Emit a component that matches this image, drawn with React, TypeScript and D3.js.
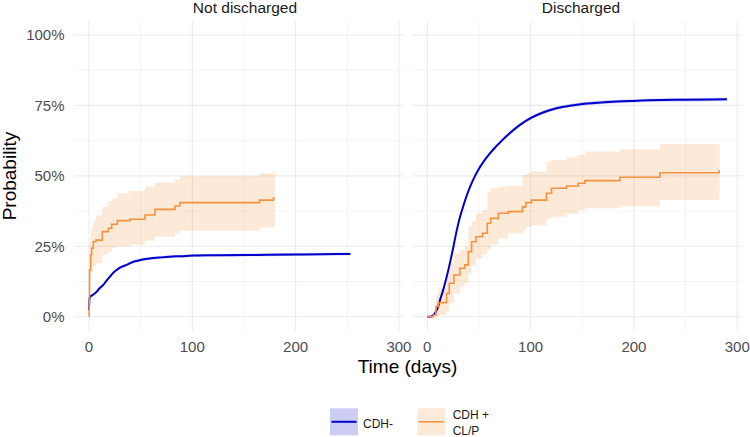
import React from "react";
import * as d3 from "d3";

// ---------- data ----------
const panels = ["Not discharged", "Discharged"];
const xTicks = [0, 100, 200, 300];
const xMinor = [50, 150, 250];
const yTicks = [0, 25, 50, 75, 100];
const yMinor = [12.5, 37.5, 62.5, 87.5];
const yTickLabels = ["0%", "25%", "50%", "75%", "100%"];
const legendLabels = [["CDH-"], ["CDH +", "CL/P"]];

// Not discharged — CDH- (smooth estimate, %)
const ndBlueDays = [0, 0.5, 1.5, 4, 7.5, 10, 13.8, 17, 20.3, 23, 26.8, 31, 36.5, 41, 46.2, 52, 59, 68, 78, 90, 101, 125, 150, 175, 200, 225, 253];
const ndBlueEst = [2.4, 6.5, 7.2, 7.8, 8.9, 10.0, 11.3, 12.8, 14.2, 15.4, 16.6, 17.6, 18.4, 19.2, 19.8, 20.3, 20.7, 21.0, 21.3, 21.5, 21.7, 21.8, 21.9, 22.0, 22.1, 22.2, 22.3];
const ndBlueLo = [2.0, 6.0, 6.7, 7.3, 8.4, 9.5, 10.8, 12.3, 13.7, 14.9, 16.1, 17.1, 17.9, 18.7, 19.3, 19.8, 20.2, 20.5, 20.8, 21.0, 21.2, 21.3, 21.4, 21.5, 21.6, 21.7, 21.8];
const ndBlueHi = [2.8, 7.0, 7.7, 8.3, 9.4, 10.5, 11.8, 13.3, 14.7, 15.9, 17.1, 18.1, 18.9, 19.7, 20.3, 20.8, 21.2, 21.5, 21.8, 22.0, 22.2, 22.3, 22.4, 22.5, 22.6, 22.7, 22.8];

// Not discharged — CDH + CL/P (step estimate, %)
const ndOrDays = [0, 0.2, 0.5, 1.6, 2.6, 4.2, 6.8, 12.9, 18.7, 22, 27.4, 39.7, 54.2, 63.9, 83.3, 88, 165, 178.4, 180];
const ndOrEst = [0, 6.6, 16.6, 21.9, 24.3, 26.6, 27.2, 30.2, 31.4, 32.8, 34.1, 34.6, 36.1, 38.1, 39.3, 40.5, 41.4, 42.0, 42.0];
const ndOrLo = [0, 1.0, 9.0, 14.0, 16.0, 18.0, 19.0, 22.0, 23.0, 24.5, 25.0, 25.5, 27.0, 28.4, 29.6, 30.5, 31.7, 32.0, 32.0];
const ndOrHi = [0, 14.0, 26.0, 30.0, 32.0, 34.0, 36.0, 39.0, 41.0, 42.0, 43.8, 44.7, 46.1, 47.7, 48.8, 49.9, 50.9, 51.5, 51.5];

// Discharged — CDH- (smooth estimate, %)
const dBlueDays = [0, 3, 5, 7.4, 10, 12.3, 15, 17.1, 20, 22, 25, 27, 30, 32, 35, 38, 42, 46, 50, 55, 60, 65, 70, 80, 90, 100, 112, 125, 140, 150, 175, 200, 225, 250, 275, 290];
const dBlueEst = [0, 0, 0.3, 1.2, 3.0, 5.9, 9.0, 11.8, 16.0, 19.2, 24.3, 28.0, 33.0, 35.8, 39.5, 42.8, 46.6, 49.8, 52.5, 55.3, 57.7, 59.8, 61.7, 65.2, 68.2, 70.5, 72.5, 74.0, 75.0, 75.5, 76.2, 76.6, 76.9, 77.0, 77.1, 77.2];
const dBlueLo = [0, 0, 0.1, 0.8, 2.5, 5.3, 8.4, 11.2, 15.4, 18.6, 23.7, 27.4, 32.4, 35.2, 38.9, 42.2, 46.0, 49.2, 51.9, 54.7, 57.1, 59.2, 61.1, 64.6, 67.6, 69.9, 71.9, 73.4, 74.4, 74.9, 75.6, 76.0, 76.3, 76.4, 76.5, 76.6];
const dBlueHi = [0, 0.1, 0.5, 1.6, 3.5, 6.5, 9.6, 12.4, 16.6, 19.8, 24.9, 28.6, 33.6, 36.4, 40.1, 43.4, 47.2, 50.4, 53.1, 55.9, 58.3, 60.4, 62.3, 65.8, 68.8, 71.1, 73.1, 74.6, 75.6, 76.1, 76.8, 77.2, 77.5, 77.6, 77.7, 77.8];

// Discharged — CDH + CL/P (step estimate, %)
const dOrDays = [0, 5.8, 8.4, 10.7, 18.7, 21.3, 25.8, 31.6, 36.4, 39.7, 42.9, 47.1, 53.5, 58.1, 61.3, 68.7, 78.4, 92.2, 95.4, 100.9, 115.4, 120.3, 134.8, 146, 152.5, 186.4, 225.1, 282.5, 283];
const dOrEst = [0, 0.6, 3.6, 5.0, 8.3, 11.9, 14.8, 17.2, 18.4, 23.1, 26.6, 28.4, 29.6, 33.2, 34.9, 36.7, 37.3, 39.0, 40.5, 41.4, 43.8, 45.6, 46.4, 47.4, 48.3, 49.5, 51.1, 51.8, 51.8];
const dOrLo = [0, 0, 0.2, 0.5, 2.0, 5.0, 8.3, 10.7, 12.0, 15.4, 18.0, 20.7, 22.0, 23.7, 25.5, 27.8, 29.6, 30.5, 31.9, 32.5, 34.9, 35.5, 36.5, 37.9, 38.5, 39.3, 41.4, 41.8, 41.8];
const dOrHi = [0, 2.4, 8.0, 10.0, 15.0, 19.0, 22.5, 23.7, 25.0, 31.9, 34.0, 36.7, 38.0, 44.4, 45.6, 46.1, 46.5, 50.3, 50.9, 51.5, 55.0, 55.6, 56.5, 57.4, 58.6, 59.4, 61.3, 61.5, 61.5];

// ---------- styles ----------
const BLUE = "#0000CD";
const ORANGE = "#F5923E";
const GRID = "#EBEBEB";
const FONT = "'Liberation Sans', Arial, Helvetica, sans-serif";

type Pt = { x: number; y: number; lo: number; hi: number };
const zip = (d: number[], e: number[], lo: number[], hi: number[]): Pt[] =>
  d.map((x, i) => ({ x, y: e[i], lo: lo[i], hi: hi[i] }));

const panelData = [
  {
    blue: zip(ndBlueDays, ndBlueEst, ndBlueLo, ndBlueHi),
    orange: zip(ndOrDays, ndOrEst, ndOrLo, ndOrHi),
  },
  {
    blue: zip(dBlueDays, dBlueEst, dBlueLo, dBlueHi),
    orange: zip(dOrDays, dOrEst, dOrLo, dOrHi),
  },
];

const W = 750;
const H = 437;
const panelLeft = [74, 412.3];
const panelWidth = 329.6;
const panelTop = 20.9;
const panelBottom = 330.8;
const stripX = [245, 581];

export default function App() {
  const y = d3.scaleLinear().domain([-5, 105]).range([panelBottom, panelTop]);

  return (
    <svg
      width={W}
      height={H}
      style={{ position: "absolute", left: 0, top: 0, display: "block", background: "#fff" }}
      fontFamily={FONT}
    >
      <rect width={W} height={H} fill="#fff" />
      {panels.map((name, pi) => {
        const x = d3
          .scaleLinear()
          .domain([-14.5, 304.5])
          .range([panelLeft[pi], panelLeft[pi] + panelWidth]);
        const [x0, x1] = x.range();
        const stepLine = d3
          .line<Pt>()
          .x((d) => x(d.x))
          .y((d) => y(d.y))
          .curve(d3.curveStepAfter);
        const stepArea = d3
          .area<Pt>()
          .x((d) => x(d.x))
          .y0((d) => y(d.lo))
          .y1((d) => y(d.hi))
          .curve(d3.curveStepAfter);
        const smoothLine = d3
          .line<Pt>()
          .x((d) => x(d.x))
          .y((d) => y(d.y))
          .curve(d3.curveMonotoneX);
        const smoothArea = d3
          .area<Pt>()
          .x((d) => x(d.x))
          .y0((d) => y(d.lo))
          .y1((d) => y(d.hi))
          .curve(d3.curveMonotoneX);
        const pd = panelData[pi];
        return (
          <g key={name}>
            {/* grid */}
            {yMinor.map((t) => (
              <line key={"ym" + t} x1={x0} x2={x1} y1={y(t)} y2={y(t)} stroke={GRID} strokeWidth={0.55} />
            ))}
            {xMinor.map((t) => (
              <line key={"xm" + t} x1={x(t)} x2={x(t)} y1={panelTop} y2={panelBottom} stroke={GRID} strokeWidth={0.55} />
            ))}
            {yTicks.map((t) => (
              <line key={"y" + t} x1={x0} x2={x1} y1={y(t)} y2={y(t)} stroke={GRID} strokeWidth={1.1} />
            ))}
            {xTicks.map((t) => (
              <line key={"x" + t} x1={x(t)} x2={x(t)} y1={panelTop} y2={panelBottom} stroke={GRID} strokeWidth={1.1} />
            ))}
            {/* ribbons */}
            <path d={smoothArea(pd.blue) || ""} fill={BLUE} fillOpacity={0.2} />
            <path d={stepArea(pd.orange) || ""} fill={ORANGE} fillOpacity={0.2} />
            {/* lines */}
            <path d={smoothLine(pd.blue) || ""} fill="none" stroke={BLUE} strokeWidth={2} />
            <path d={stepLine(pd.orange) || ""} fill="none" stroke={ORANGE} strokeWidth={1.6} />
            {/* x tick labels */}
            {xTicks.map((t) => (
              <text key={"xl" + t} x={x(t)} y={351.5} textAnchor="middle" fontSize={15} fill="#4D4D4D">
                {t}
              </text>
            ))}
            {/* strip */}
            <text x={stripX[pi]} y={13} textAnchor="middle" fontSize={15.5} fill="#1A1A1A">
              {name}
            </text>
          </g>
        );
      })}
      {/* y tick labels */}
      {yTicks.map((t, i) => (
        <text key={"yl" + t} x={64.5} y={y(t)} dy="0.36em" textAnchor="end" fontSize={15} fill="#4D4D4D">
          {yTickLabels[i]}
        </text>
      ))}
      {/* axis titles */}
      <text x={407.5} y={373.3} textAnchor="middle" fontSize={19} fill="#000">
        Time (days)
      </text>
      <text transform={`translate(15.5,176) rotate(-90)`} textAnchor="middle" fontSize={19} fill="#000">
        Probability
      </text>
      {/* legend */}
      <g>
        <rect x={330} y={408.3} width={28} height={27} fill={BLUE} fillOpacity={0.2} />
        <line x1={331.5} x2={356.5} y1={421.8} y2={421.8} stroke={BLUE} strokeWidth={2} />
        <text x={363} y={427.5} fontSize={12} fill="#1A1A1A">
          {legendLabels[0][0]}
        </text>
        <rect x={417.3} y={408.3} width={28} height={27} fill={ORANGE} fillOpacity={0.2} />
        <line x1={418.8} x2={443.8} y1={421.8} y2={421.8} stroke={ORANGE} strokeWidth={1.6} />
        <text x={452.7} y={418.5} fontSize={12} fill="#1A1A1A">
          {legendLabels[1][0]}
        </text>
        <text x={452.7} y={434.5} fontSize={12} fill="#1A1A1A">
          {legendLabels[1][1]}
        </text>
      </g>
    </svg>
  );
}
